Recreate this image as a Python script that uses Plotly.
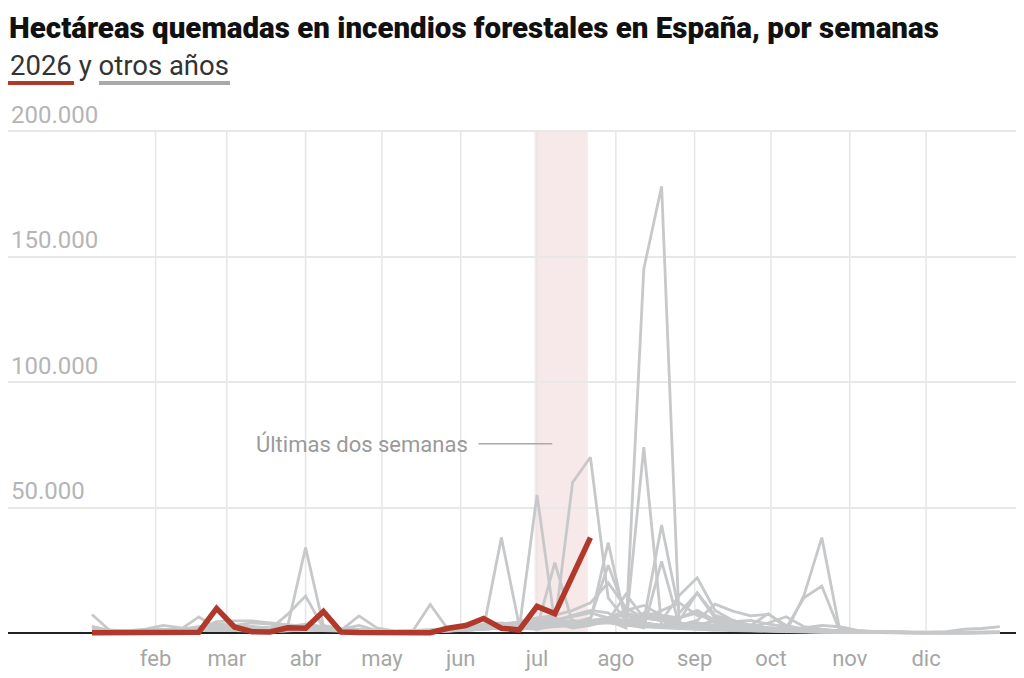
import plotly.graph_objects as go

# ---------------- data ----------------
weeks = list(range(1, 53))            # week number
week_doy = [7 * w for w in weeks]     # day-of-year at end of each week

months = ["feb", "mar", "abr", "may", "jun", "jul", "ago", "sep", "oct", "nov", "dic"]
month_start_doy = [32, 60, 91, 121, 152, 182, 213, 244, 274, 305, 335]

y_ticks = [50000, 100000, 150000, 200000]
y_ticktext = ["50.000", "100.000", "150.000", "200.000"]

band_start_doy = 181
band_end_doy = 202

# 2026 (weeks 1..29)
y2026 = [100, 200, 200, 200, 200, 200, 300, 9800, 2400, 500, 400, 2100, 1900,
         8600, 400, 200, 100, 100, 100, 100, 1900, 3000, 5800, 1900, 1200, 10600,
         7700, 23000, 38000]

# other years
g_a = [800, 500, 600, 1200, 1500, 900, 1200, 2500, 1800, 2200, 1500, 3000, 2800,
       1500, 1000, 800, 600, 700, 900, 1200, 1500, 2500, 3500, 4000, 3000, 5000,
       6000, 4000, 3500, 5000, 2000, 145000, 178000, 2000, 4000, 3000, 2500, 2000, 1500,
       1000, 800, 600, 500, 300, 200, 100, 100, 100, 100, 200, 200, 300]
g_b = [2500, 800, 500, 700, 1000, 1500, 2000, 3500, 3000, 4000, 3500, 2000, 1500,
       1000, 1200, 1500, 800, 500, 600, 800, 1500, 2000, 3000, 2500, 4000, 3500,
       5000, 7000, 9000, 8000, 3000, 74000, 3000, 6000, 9000, 5000, 4000, 3000, 2000,
       1500, 1000, 800, 500, 400, 300, 200, 100, 100, 100, 100, 200, 300]
g_c = [600, 400, 300, 500, 800, 1000, 1500, 2000, 1500, 1200, 1000, 1500, 2500,
       2000, 1000, 600, 400, 300, 500, 700, 1000, 1500, 2000, 3000, 2500, 3000,
       4000, 3500, 5000, 6000, 7000, 5000, 43000, 8000, 16000, 7000, 5000, 3000, 2000,
       1500, 1200, 1000, 800, 500, 300, 200, 200, 100, 100, 100, 100, 200]
g_d = [300, 200, 200, 400, 600, 800, 1000, 1200, 1000, 800, 700, 1000, 1500,
       1200, 800, 500, 300, 200, 300, 500, 800, 1000, 1500, 2500, 2000, 2500,
       3000, 4000, 5000, 4500, 3500, 2000, 28500, 3000, 5000, 11500, 8700, 6800, 7500,
       3000, 1500, 1000, 700, 500, 300, 200, 100, 100, 100, 100, 100, 200]
g_e = [1500, 1000, 800, 1000, 1200, 1500, 2000, 2500, 2000, 1800, 1500, 2000, 3000,
       2000, 1500, 1000, 800, 600, 800, 1000, 1500, 2500, 3000, 2000, 1500, 55000,
       4000, 2000, 3000, 5000, 4000, 6000, 5000, 3000, 4000, 3000, 2000, 1500, 1000,
       800, 600, 500, 400, 300, 200, 200, 100, 100, 100, 100, 100, 200]
g_f = [500, 300, 300, 500, 800, 1000, 1200, 1500, 1200, 1000, 800, 1000, 1500,
       1200, 800, 600, 500, 400, 500, 800, 1200, 2000, 2000, 38000, 3000, 2000,
       2500, 3000, 4000, 6000, 5000, 4000, 3000, 2500, 2000, 1500, 1200, 1000, 800,
       600, 500, 400, 300, 200, 200, 100, 100, 100, 100, 100, 100, 200]
g_g = [1000, 600, 500, 800, 1000, 1200, 1500, 2000, 1500, 1200, 1000, 1500, 2000,
       1500, 1000, 800, 600, 500, 600, 800, 1000, 1500, 2000, 2500, 2000, 1500,
       3000, 60000, 70000, 14000, 5000, 7000, 6000, 4000, 3000, 2500, 2000, 1500, 1000,
       800, 600, 500, 400, 300, 200, 200, 100, 100, 100, 100, 100, 200]
g_h = [800, 500, 400, 600, 800, 1000, 1200, 1500, 1200, 1000, 900, 1200, 1800,
       1500, 1000, 700, 500, 400, 500, 700, 900, 1200, 1800, 2500, 3000, 4000,
       3000, 4000, 5000, 36000, 4000, 8000, 7000, 5000, 16000, 6000, 4000, 3000, 2000,
       1500, 1000, 800, 600, 400, 300, 200, 100, 100, 100, 100, 100, 200]
g_i = [400, 300, 300, 400, 600, 800, 1000, 1200, 1000, 800, 700, 900, 1200,
       1000, 800, 600, 400, 300, 400, 600, 800, 1000, 1500, 2000, 1500, 2000,
       28000, 4000, 6000, 27000, 8000, 6000, 5000, 15000, 22000, 9000, 5000, 3000, 2000,
       1500, 1000, 800, 600, 400, 300, 200, 100, 100, 100, 100, 100, 200]
g_j = [2500, 1000, 800, 1500, 3000, 2000, 1500, 2000, 1500, 2500, 2000, 3000, 34000,
       3000, 1500, 1000, 800, 600, 800, 1000, 1500, 2000, 2500, 3000, 2500, 3000,
       4000, 5000, 4000, 5000, 3000, 4000, 3000, 2500, 2000, 1500, 1200, 1000, 800,
       600, 500, 400, 300, 200, 200, 100, 100, 100, 100, 100, 200, 300]
g_k = [600, 400, 300, 500, 700, 1000, 1500, 1800, 1500, 1200, 1500, 7500, 14700,
       2000, 1200, 800, 600, 400, 500, 700, 900, 1200, 1500, 2000, 1800, 2200,
       3000, 3500, 4000, 5000, 3500, 3000, 2500, 2000, 1500, 1200, 1000, 800, 600,
       500, 400, 300, 200, 200, 100, 100, 100, 100, 100, 100, 100, 200]
g_l = [7400, 1000, 600, 800, 1000, 1500, 6400, 2000, 1500, 1200, 1000, 1500, 2000,
       1500, 1200, 6800, 2000, 800, 600, 11400, 1500, 2000, 2500, 3000, 2500, 3000,
       3500, 4000, 4500, 5000, 4000, 3500, 3000, 4000, 3000, 2500, 2000, 1500, 1500,
       500, 15000, 38000, 1500, 800, 500, 300, 200, 200, 100, 100, 100, 200]
g_m = [2500, 800, 500, 700, 900, 1200, 1500, 4500, 4800, 4800, 4000, 3000, 2500,
       2000, 1500, 3000, 1000, 600, 500, 800, 1000, 1500, 2000, 2500, 2000, 2500,
       3000, 3500, 4000, 5000, 15500, 6000, 5000, 4000, 3000, 5000, 4000, 3000, 7700,
       2000, 14000, 18700, 1000, 600, 400, 300, 200, 200, 100, 100, 200, 300]
g_n = [1200, 600, 400, 600, 800, 1000, 1200, 1500, 1200, 1000, 800, 1000, 1500,
       1200, 900, 700, 500, 400, 500, 700, 900, 1200, 1500, 2000, 1800, 2200,
       2500, 3000, 3500, 4000, 3000, 2500, 2000, 1800, 1500, 1200, 3000, 2000, 1500,
       1200, 2000, 3000, 2500, 1000, 500, 300, 200, 300, 500, 1500, 1800, 2500]
g_o = [900, 500, 400, 700, 1200, 1500, 2500, 3500, 3000, 2500, 2000, 2500, 3500,
       2500, 1500, 1000, 700, 500, 700, 900, 1200, 1800, 2500, 3500, 4500, 6000,
       7000, 9000, 12000, 20000, 10000, 6000, 9000, 12000, 7000, 5500, 4500, 5000, 3500,
       2500, 1500, 1000, 800, 500, 300, 200, 200, 100, 100, 100, 200, 300]
g_p = [300, 200, 200, 300, 500, 800, 1000, 1500, 1200, 1000, 900, 1200, 2000,
       1500, 1000, 700, 500, 400, 500, 700, 1000, 1500, 2000, 3000, 3500, 4500,
       5000, 6500, 8000, 6000, 9000, 11000, 7000, 6000, 8000, 4000, 3000, 2500, 4000,
       6500, 2500, 1500, 800, 500, 300, 200, 100, 100, 100, 100, 100, 200]

other_years = [g_a, g_b, g_c, g_d, g_e, g_f, g_g, g_h, g_i, g_j, g_k, g_l, g_m, g_n,
               g_o, g_p]

# ---------------- layout geometry ----------------
W, H = 1024, 678
M_L, M_R, M_T, M_B = 8, 8, 95, 38
PLOT_W = W - M_L - M_R
PLOT_H = H - M_T - M_B
ZERO_PX = 633            # pixel row of y = 0
PX_PER_UNIT = 502 / 200000
Y_MAX = (ZERO_PX - M_T) / PX_PER_UNIT
Y_MIN = -((H - M_B) - ZERO_PX) / PX_PER_UNIT
X_PX_PER_DAY = 17.8 / 7
X_MIN = 7 - (92 - M_L) / X_PX_PER_DAY
X_MAX = 7 + (W - M_R - 92) / X_PX_PER_DAY


def pxx(px):
    return (px - M_L) / PLOT_W


def pxy(py):
    return (H - M_B - py) / PLOT_H


GRAY = "#c6c8ca"
RED = "#b0392b"

fig = go.Figure()

for s in other_years:
    fig.add_trace(go.Scatter(x=week_doy, y=s, mode="lines",
                             line=dict(color=GRAY, width=2.8),
                             hoverinfo="skip", showlegend=False))

fig.add_trace(go.Scatter(x=week_doy[:len(y2026)], y=y2026, mode="lines",
                         line=dict(color=RED, width=5.5),
                         hoverinfo="skip", showlegend=False))

shapes = []
# highlight band
shapes.append(dict(type="rect", xref="x", yref="y", x0=band_start_doy, x1=band_end_doy,
                   y0=0, y1=y_ticks[-1], fillcolor="#f7e9e9", line=dict(width=0),
                   layer="below"))
# month gridlines
for d in month_start_doy:
    shapes.append(dict(type="line", xref="x", yref="y", x0=d, x1=d, y0=0, y1=y_ticks[-1],
                       line=dict(color="#e6e6e6", width=1.5), layer="below"))
# legend underlines
shapes.append(dict(type="line", xref="paper", yref="paper", x0=pxx(8), x1=pxx(74),
                   y0=pxy(83), y1=pxy(83), line=dict(color=RED, width=4)))
shapes.append(dict(type="line", xref="paper", yref="paper", x0=pxx(99), x1=pxx(230),
                   y0=pxy(83), y1=pxy(83), line=dict(color="#a9a9a9", width=4)))
# annotation leader line
ann_y = 75400
shapes.append(dict(type="line", xref="x", yref="y", x0=159, x1=188, y0=ann_y, y1=ann_y,
                   line=dict(color="#aaaaaa", width=1.5)))

annotations = [
    dict(xref="paper", yref="paper", x=pxx(8), y=pxy(65), xanchor="left", yanchor="middle",
         text="2026 y otros años", showarrow=False,
         font=dict(family="Roboto", size=27.5, color="#333333")),
    dict(xref="x", yref="y", x=155.5, y=ann_y, xanchor="right", yanchor="middle",
         text="Últimas dos semanas", showarrow=False,
         font=dict(family="Roboto", size=22, color="#9a9a9a")),
]

fig.update_layout(
    width=W, height=H,
    margin=dict(l=M_L, r=M_R, t=M_T, b=M_B),
    paper_bgcolor="white", plot_bgcolor="white",
    title=dict(text="Hectáreas quemadas en incendios forestales en España, por semanas",
               xref="container", yref="container", x=9 / W, xanchor="left",
               y=1 - 28 / H, yanchor="middle",
               font=dict(family="Roboto", size=29.5, weight=900, color="#111111")),
    shapes=shapes, annotations=annotations,
    xaxis=dict(range=[X_MIN, X_MAX], tickvals=month_start_doy, ticktext=months,
               showgrid=False, zeroline=False, ticks="", showline=False,
               ticklabelstandoff=3,
               tickfont=dict(family="Roboto", size=22, color="#a6a6a6")),
    yaxis=dict(range=[Y_MIN, Y_MAX], tickvals=y_ticks, ticktext=y_ticktext,
               ticklabelposition="inside top", ticks="",
               showgrid=True, gridcolor="#e8e8e8", gridwidth=1.5,
               zeroline=True, zerolinecolor="#222222", zerolinewidth=1.5,
               tickfont=dict(family="Roboto", size=24, color="#b5b5b5")),
    showlegend=False,
)

fig.write_html("out.html")
